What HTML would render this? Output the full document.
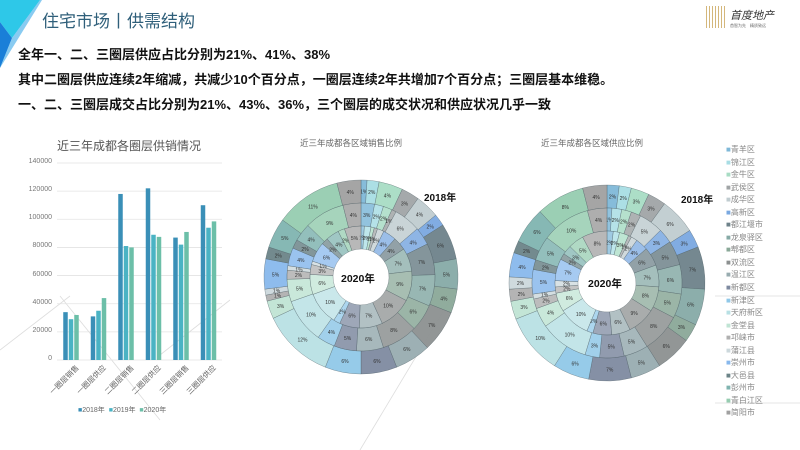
<!DOCTYPE html>
<html><head><meta charset="utf-8"><style>
body{margin:0;width:800px;height:450px;background:#fff;overflow:hidden;position:relative;font-family:"Liberation Sans","Noto Sans CJK SC",sans-serif}
.t{position:absolute;white-space:nowrap}
.line{position:absolute;left:18px;font-size:13px;color:#111;font-weight:bold}
</style></head><body>
<svg width="800" height="450" style="position:absolute;left:0;top:0">
<polygon points="0,0 40,0 12,38 0,22" fill="#2ec8e8"/>
<polygon points="0,22 12,38 0,68" fill="#1a7fd8"/>
<polygon points="12,38 40,0 42,0 0,68" fill="#3aa8e8" opacity="0.6"/>
<g stroke="#ddd" stroke-width="0.8">
<line x1="0" y1="350" x2="70" y2="296"/><line x1="60" y1="296" x2="160" y2="420"/>
<line x1="160" y1="355" x2="230" y2="300"/><line x1="450" y1="300" x2="360" y2="450"/>
<line x1="715" y1="296" x2="800" y2="296"/><line x1="715" y1="403" x2="800" y2="403"/>
</g>
<g stroke="#e3e3e3" stroke-width="0.8" id="grid"></g>
<g id="bars"></g>
<g id="d1"></g><g id="d2"></g>
</svg>
<div class="t" style="left:42px;top:7px;font-size:17px;color:#2f5f7a">住宅市场丨供需结构</div>
<div class="t" style="left:706px;top:6px;width:20px;height:22px;background:repeating-linear-gradient(90deg,#c9a55a 0 1px,transparent 1px 3px);opacity:.8"></div>
<div class="t" style="left:730px;top:7px;font-size:11px;font-style:italic;color:#333">首度地产</div>
<div class="t" style="left:730px;top:23px;font-size:4px;color:#666">首智为先　精质致远</div>
<div class="line" style="top:44px">全年一、二、三圈层供应占比分别为21%、41%、38%</div>
<div class="line" style="top:69px">其中二圈层供应连续2年缩减，共减少10个百分点，一圈层连续2年共增加7个百分点；三圈层基本维稳。</div>
<div class="line" style="top:94px">一、二、三圈层成交占比分别为21%、43%、36%，三个圈层的成交状况和供应状况几乎一致</div>
<div class="t" style="left:57px;top:137px;font-size:12px;color:#555">近三年成都各圈层供销情况</div>
<div class="t" style="left:300px;top:137px;font-size:8.5px;color:#666">近三年成都各区域销售比例</div>
<div class="t" style="left:541px;top:137px;font-size:8.5px;color:#666">近三年成都各区域供应比例</div>
<div class="t" style="left:424px;top:189px;font-size:10px;font-weight:bold;color:#111">2018年</div>
<div class="t" style="left:681px;top:191px;font-size:10px;font-weight:bold;color:#111">2018年</div>
<div class="t" style="left:341px;top:271px;font-size:10.5px;font-weight:bold;color:#111">2020年</div>
<div class="t" style="left:588px;top:276px;font-size:10.5px;font-weight:bold;color:#111">2020年</div>
<div class="t" style="left:78px;top:405px;font-size:7px;color:#666"><span style="color:#3a8fb7">■</span>2018年 &nbsp;<span style="color:#4ab3c4">■</span>2019年 &nbsp;<span style="color:#6cbfa8">■</span>2020年</div>
<div id="ylab"></div><div id="xlab"></div>
<div class="t" style="left:726px;top:144px;font-size:8px;line-height:12.55px;color:#888" id="leg">
<div><span style="color:#7fb8d8">■</span>青羊区</div><div><span style="color:#a8dde4">■</span>锦江区</div><div><span style="color:#a8dcc4">■</span>金牛区</div><div><span style="color:#a0a4a6">■</span>武侯区</div><div><span style="color:#c0ccd0">■</span>成华区</div><div><span style="color:#7aa8e0">■</span>高新区</div><div><span style="color:#6e828a">■</span>都江堰市</div><div><span style="color:#86aaa6">■</span>龙泉驿区</div><div><span style="color:#8aa898">■</span>郫都区</div><div><span style="color:#8c9090">■</span>双流区</div><div><span style="color:#98acb0">■</span>温江区</div><div><span style="color:#7e8aa0">■</span>新都区</div><div><span style="color:#90c8e8">■</span>新津区</div><div><span style="color:#b8e0e4">■</span>天府新区</div><div><span style="color:#c0e4d4">■</span>金堂县</div><div><span style="color:#b0b0b0">■</span>邛崃市</div><div><span style="color:#ccd8dc">■</span>蒲江县</div><div><span style="color:#88b8ec">■</span>崇州市</div><div><span style="color:#6c8488">■</span>大邑县</div><div><span style="color:#80b4b0">■</span>彭州市</div><div><span style="color:#96ccb0">■</span>青白江区</div><div><span style="color:#a0a0a0">■</span>简阳市</div>
</div>
<script>
var NS="http://www.w3.org/2000/svg";
function el(p,t,a){var e=document.createElementNS(NS,t);for(var k in a)e.setAttribute(k,a[k]);p.appendChild(e);return e;}
var g=document.getElementById('grid'),b=document.getElementById('bars');
var yl=document.getElementById('ylab');
for(var i=0;i<=7;i++){var y=360-i*20000/140000*197;el(g,'line',{x1:57,x2:222,y1:y,y2:y});
var d=document.createElement('div');d.className='t';d.style.cssText='right:'+(800-52)+'px;top:'+(y-5)+'px;font-size:7px;color:#777';d.textContent=i*20000;yl.appendChild(d);}
var data=[[34000,29000,32000],[31000,35000,44000],[118000,81000,80000],[122000,89000,87500],[87000,82000,91000],[110000,94000,98500]];
var cols=['#3a8fb7','#4ab3c4','#6cbfa8'];
var names=['一圈层销售','一圈层供应','二圈层销售','二圈层供应','三圈层销售','三圈层供应'];
var xl=document.getElementById('xlab');
data.forEach(function(r,c){var cx=57+27.5*c+13.75;r.forEach(function(v,j){var h=v/140000*197;el(b,'rect',{x:cx-7.5+j*5.5,y:360-h,width:4.5,height:h,fill:cols[j]});});
var d=document.createElement('div');d.className='t';d.style.cssText='left:'+(cx-40)+'px;top:364px;width:44px;text-align:right;font-size:7.5px;line-height:8px;color:#666;transform:rotate(-45deg);transform-origin:100% 0';d.textContent=names[c];xl.appendChild(d);});
var pal=['#7fb8d8','#a8dde4','#a8dcc4','#a0a4a6','#c0ccd0','#7aa8e0','#6e828a','#86aaa6','#8aa898','#8c9090','#98acb0','#7e8aa0','#90c8e8','#b8e0e4','#c0e4d4','#b0b0b0','#ccd8dc','#88b8ec','#6c8488','#80b4b0','#96ccb0','#a0a0a0'];
function ring(p,cx,cy,r0,r1,vals,op){var s=vals.reduce(function(a,b){return a+b},0),a=-Math.PI/2;
vals.forEach(function(v,i){var a2=a+v/s*2*Math.PI,lg=(a2-a)>Math.PI?1:0;
function P(r,t){return (cx+r*Math.cos(t)).toFixed(2)+','+(cy+r*Math.sin(t)).toFixed(2);}
el(p,'path',{d:'M'+P(r1,a)+'A'+r1+','+r1+' 0 '+lg+' 1 '+P(r1,a2)+'L'+P(r0,a2)+'A'+r0+','+r0+' 0 '+lg+' 0 '+P(r0,a)+'Z',fill:pal[i],'fill-opacity':op,stroke:'#4a5a60','stroke-width':0.5,'stroke-opacity':0.6});
var m=(a+a2)/2,rm=(r0+r1)/2,t=el(p,'text',{x:cx+rm*Math.cos(m),y:cy+rm*Math.sin(m)+2,'font-size':5,'text-anchor':'middle',fill:'#333'});t.textContent=v+'%';a=a2;});}
var d1=document.getElementById('d1'),d2=document.getElementById('d2');
ring(d1,361,277,74,97,[1,2,4,3,4,2,6,5,4,7,6,6,6,12,3,1,1,5,2,5,11,4],0.95);
ring(d1,361,277,51,74,[3,2,2,1,6,4,7,7,6,8,6,5,4,10,5,2,1,4,2,4,9,4],0.85);
ring(d1,361,277,28,51,[1,2,1,1,2,4,4,7,9,10,7,6,2,10,6,3,1,6,2,4,2,5],0.75);
ring(d2,607,283,75,98,[2,2,3,3,6,3,7,6,3,6,5,7,6,10,3,2,2,4,2,6,8,4],0.95);
ring(d2,607,283,52,75,[1,2,2,2,5,3,5,6,5,8,5,5,3,10,4,2,1,5,2,5,10,4],0.85);
ring(d2,607,283,29,52,[2,2,3,1,2,4,6,7,8,9,6,6,2,10,6,2,2,7,2,3,5,8],0.75);
</script>
</body></html>
